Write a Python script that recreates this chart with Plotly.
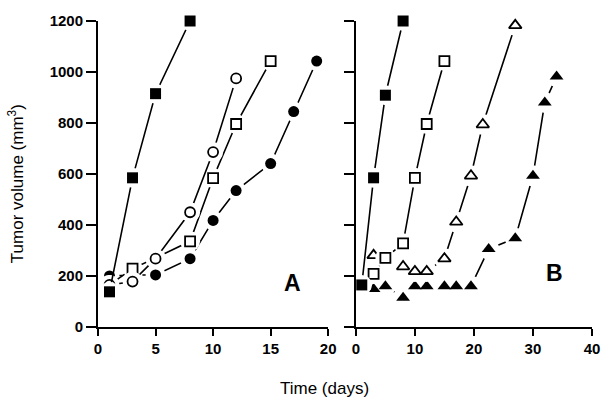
import plotly.graph_objects as go

# ---- Panel A data ----
a_ctrl_x = [1, 3, 5, 8]
a_ctrl_y = [138, 585, 915, 1200]
a_ocirc_x = [1, 3, 5, 8, 10, 12]
a_ocirc_y = [165, 178, 268, 450, 686, 975]
a_osq_x = [1, 3, 5, 8, 10, 12, 15]
a_osq_y = [165, 229, 271, 336, 584, 796, 1043]
a_fcirc_x = [1, 3, 5, 8, 10, 12, 15, 17, 19]
a_fcirc_y = [200, 204, 204, 268, 418, 535, 641, 845, 1043]

# ---- Panel B data ----
b_ctrl_x = [1, 3, 5, 8]
b_ctrl_y = [165, 585, 909, 1200]
b_osq_x = [1, 3, 5, 8, 10, 12, 15]
b_osq_y = [165, 208, 271, 328, 585, 796, 1043]
b_otri_x = [3, 5, 8, 10, 12, 15, 17, 19.5, 21.5, 27]
b_otri_y = [281, 268, 237, 218, 218, 268, 412, 593, 794, 1183]
b_ftri_x = [1, 3, 5, 8, 10, 12, 15, 17, 19.5, 22.5, 27, 30, 32, 34]
b_ftri_y = [165, 149, 160, 115, 160, 160, 160, 160, 160, 306, 348, 593, 880, 982]

y_ticks = [0, 200, 400, 600, 800, 1000, 1200]
xa_ticks = [0, 5, 10, 15, 20]
xb_ticks = [0, 10, 20, 30, 40]

FONT = "Liberation Sans, Arial, sans-serif"

fig = go.Figure()

def add_series(x, y, symbol, xa, ya, size=10):
    fig.add_trace(go.Scatter(x=x, y=y, mode="lines", xaxis=xa, yaxis=ya,
                             line=dict(color="black", width=1.6),
                             cliponaxis=False, showlegend=False, hoverinfo="skip"))
    fig.add_trace(go.Scatter(x=x, y=y, mode="markers", xaxis=xa, yaxis=ya,
                             marker=dict(symbol="circle", size=size + 9, color="white",
                                         line=dict(width=0)),
                             cliponaxis=False, showlegend=False, hoverinfo="skip"))
    openm = symbol.endswith("-open")
    fig.add_trace(go.Scatter(x=x, y=y, mode="markers", xaxis=xa, yaxis=ya,
                             marker=dict(symbol=symbol, size=size if not openm else size - 1,
                                         color="black",
                                         line=dict(color="black", width=1.8 if openm else 0)),
                             cliponaxis=False, showlegend=False))

# Panel A
add_series(a_fcirc_x, a_fcirc_y, "circle", "x", "y", size=11)
add_series(a_osq_x, a_osq_y, "square-open", "x", "y", size=11)
add_series(a_ocirc_x, a_ocirc_y, "circle-open", "x", "y", size=11)
add_series(a_ctrl_x, a_ctrl_y, "square", "x", "y", size=11)

# Panel B
add_series(b_ftri_x, b_ftri_y, "triangle-up", "x2", "y2", size=12)
add_series(b_otri_x, b_otri_y, "triangle-up-open", "x2", "y2", size=12)
add_series(b_osq_x, b_osq_y, "square-open", "x2", "y2", size=11)
add_series(b_ctrl_x, b_ctrl_y, "square", "x2", "y2", size=11)

axis_common = dict(showline=True, linecolor="black", linewidth=2, ticks="outside",
                   tickwidth=2, tickcolor="black", showgrid=False, zeroline=False,
                   tickfont=dict(family=FONT, size=15, color="black"))

def bold(vals):
    return ["<b>%d</b>" % v for v in vals]

fig.update_layout(
    width=612, height=402,
    margin=dict(l=98, r=14, t=13, b=75),
    paper_bgcolor="white", plot_bgcolor="white",
    xaxis=dict(domain=[0, 0.466], range=[0, 20], tickvals=xa_ticks, ticktext=bold(xa_ticks),
               ticklen=7, anchor="y", **axis_common),
    yaxis=dict(range=[0, 1200], tickvals=y_ticks, ticktext=bold(y_ticks), ticklen=10,
               anchor="x", **axis_common),
    xaxis2=dict(domain=[0.522, 1], range=[0, 40], tickvals=xb_ticks, ticktext=bold(xb_ticks),
                ticklen=7, anchor="y2", **axis_common),
    yaxis2=dict(range=[0, 1200], tickvals=y_ticks, ticklen=10, anchor="x2",
                showticklabels=False, **axis_common),
    annotations=[
        dict(text="<b>A</b>", x=16.9, y=172, xref="x", yref="y", showarrow=False,
             font=dict(family=FONT, size=23, color="black")),
        dict(text="<b>B</b>", x=33.6, y=210, xref="x2", yref="y2", showarrow=False,
             font=dict(family=FONT, size=23, color="black")),
        dict(text="Tumor volume (mm<sup>3</sup>)", x=-0.166, y=0.47, xref="paper", yref="paper",
             textangle=-90, showarrow=False, xanchor="center", yanchor="middle",
             font=dict(family=FONT, size=17, color="black")),
        dict(text="Time (days)", x=0.458, y=-0.2, xref="paper", yref="paper",
             showarrow=False, xanchor="center", yanchor="middle",
             font=dict(family=FONT, size=17, color="black")),
    ],
)

fig.write_html("out.html", config={"displayModeBar": False},
               post_script="document.body.style.margin='0';")
